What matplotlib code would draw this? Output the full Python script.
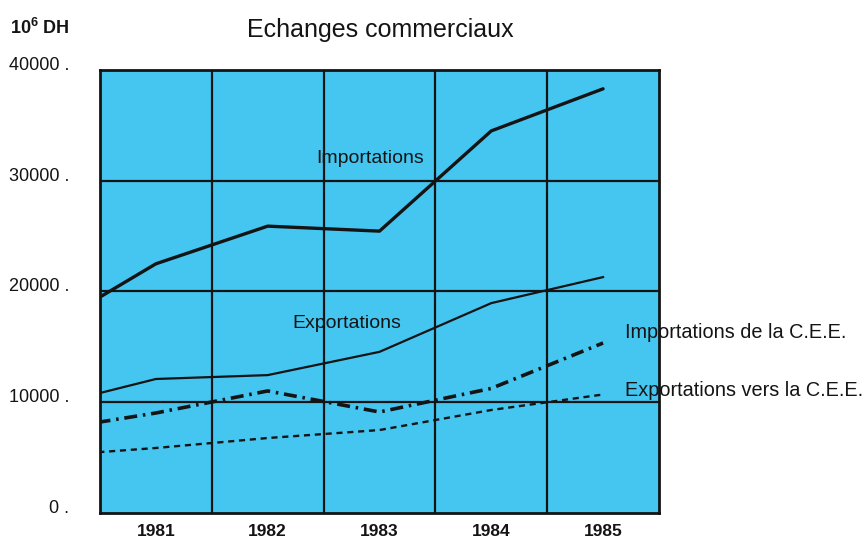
import matplotlib
matplotlib.use("Agg")
import matplotlib.pyplot as plt

plt.rcParams["font.family"] = ["Liberation Sans", "DejaVu Sans"]
plt.rcParams["mathtext.default"] = "regular"

# Trade figures, millions of dirhams
years = [1980, 1981, 1982, 1983, 1984, 1985]
importations = [16500, 22500, 25900, 25450, 34500, 38300]
exportations = [9570, 12100, 12450, 14550, 18950, 21300]
import_cee = [7400, 9030, 11020, 9120, 11250, 15350]
export_cee = [5130, 5870, 6770, 7490, 9300, 10700]

year_labels = ["1981", "1982", "1983", "1984", "1985"]
y_ticks = [0, 10000, 20000, 30000, 40000]
y_labels = ["0 .", "10000 .", "20000 .", "30000 .", "40000 ."]

BLUE = "#44C6F1"
INK = "#141414"

fig = plt.figure(figsize=(8.65, 5.4), dpi=100)
ax = fig.add_axes([0.1156, 0.05, 0.6462, 0.8204])
ax.set_facecolor(BLUE)

x_lo, x_hi = 1980.5, 1985.5
ax.set_xlim(x_lo, x_hi)
ax.set_ylim(0, 40000)

# band boundaries between years and horizontal grid
for xb in [1981.5, 1982.5, 1983.5, 1984.5]:
    ax.axvline(xb, color=INK, lw=1.6, zorder=1)
for yv in [10000, 20000, 30000]:
    ax.axhline(yv, color=INK, lw=1.6, zorder=1)

ax.plot(years, importations, color=INK, lw=2.4, solid_capstyle="round", zorder=3)
ax.plot(years, exportations, color=INK, lw=1.6, zorder=3)
ax.plot(years, import_cee, color=INK, lw=2.6, linestyle=(0, (3.6, 1.6, 0.7, 1.6)), zorder=3)
ax.plot(years, export_cee, color=INK, lw=1.7, linestyle=(0, (2.6, 2.0)), zorder=3)

for s in ax.spines.values():
    s.set_color(INK)
    s.set_linewidth(2.0)

ax.set_xticks([int(v) for v in year_labels])
ax.set_xticklabels(year_labels, fontsize=12.5, fontweight="bold", color=INK)
ax.set_yticks(y_ticks)
ax.set_yticklabels(y_labels, fontsize=13, color=INK)
for lbl in ax.get_yticklabels():
    lbl.set_verticalalignment("baseline")
ax.tick_params(axis="both", length=0)
ax.tick_params(axis="y", pad=22)
ax.tick_params(axis="x", pad=8)

ax.text(1982.92, 32000, "Importations", fontsize=14, color=INK,
        ha="center", va="center", zorder=4)
ax.text(1982.71, 17150, "Exportations", fontsize=14, color=INK,
        ha="center", va="center", zorder=4)
ax.text(1985.2, 16300, "Importations de la C.E.E.", fontsize=14.3, color=INK,
        ha="left", va="center", clip_on=False, zorder=4)
ax.text(1985.2, 11100, "Exportations vers la C.E.E.", fontsize=14.3, color=INK,
        ha="left", va="center", clip_on=False, zorder=4)

fig.text(0.4393, 0.945, "Echanges commerciaux", fontsize=18, color=INK,
         ha="center", va="center")
fig.text(0.012, 0.948, "10$^6$ DH", fontsize=13, fontweight="bold", color=INK,
         ha="left", va="center")

fig.savefig("out.png", dpi=100, facecolor="white")
